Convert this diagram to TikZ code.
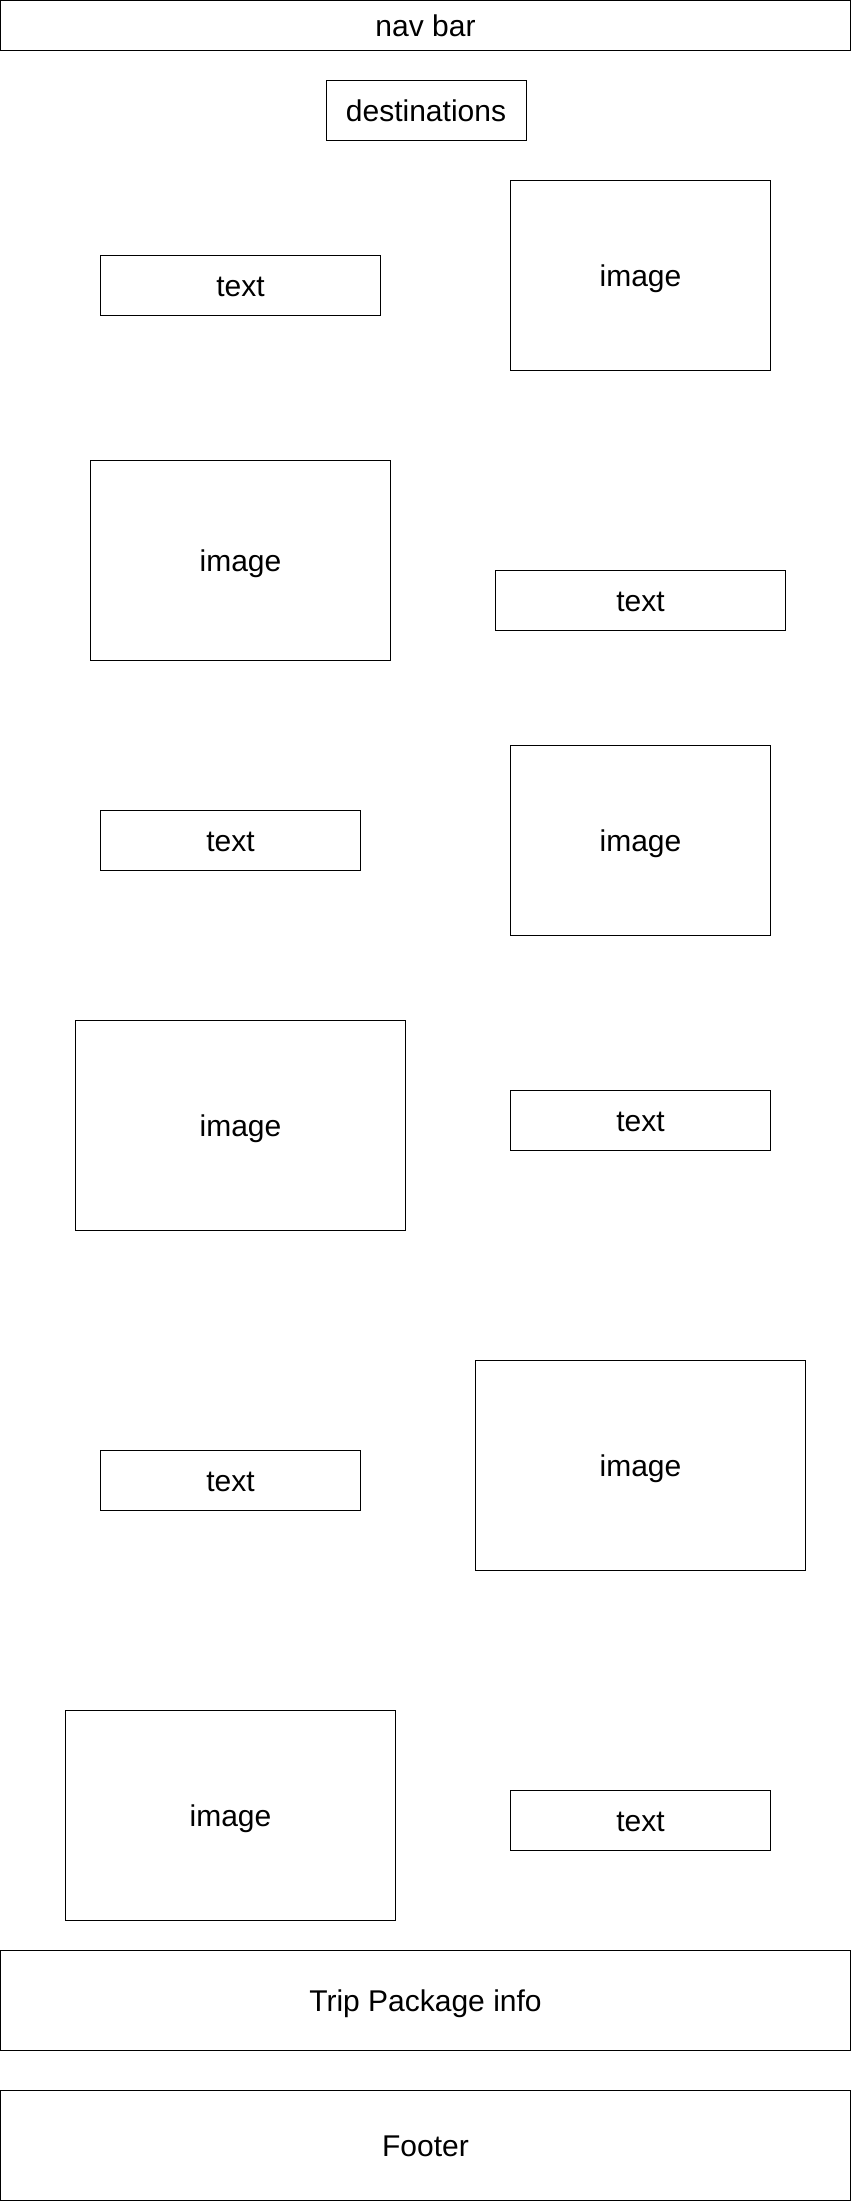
\documentclass[tikz,border=0pt]{standalone}
\usepackage{fontspec}
\setmainfont{Liberation Sans}
\begin{document}
\begin{tikzpicture}[x=1pt,y=-1pt,
  box/.style={draw=black,line width=1pt,rectangle,inner sep=0pt,anchor=center,
    font=\fontsize{30}{36}\selectfont,text height=28pt,text depth=6pt},
  wh/.style 2 args={minimum width=#1pt,minimum height=#2pt}]
\useasboundingbox[fill=white] (-0.5,-0.5) rectangle (850.5,2200.5);
\node[box,wh={850}{50}] (nav) at (425,25) {nav bar};
\node[box,wh={200}{60}] (dest) at (425.5,110) {destinations};
\node[box,wh={280}{60}] (t1) at (240,285) {text};
\node[box,wh={260}{190}] (i1) at (640,275) {image};
\node[box,wh={300}{200}] (i2) at (240,560) {image};
\node[box,wh={290}{60}] (t2) at (640,600) {text};
\node[box,wh={260}{60}] (t3) at (230,840) {text};
\node[box,wh={260}{190}] (i3) at (640,840) {image};
\node[box,wh={330}{210}] (i4) at (240,1125) {image};
\node[box,wh={260}{60}] (t4) at (640,1120) {text};
\node[box,wh={260}{60}] (t5) at (230,1480) {text};
\node[box,wh={330}{210}] (i5) at (640,1465) {image};
\node[box,wh={330}{210}] (i6) at (230,1815) {image};
\node[box,wh={260}{60}] (t6) at (640,1820) {text};
\node[box,wh={850}{100}] (trip) at (425,2000) {Trip Package info};
\node[box,wh={850}{110}] (foot) at (425,2145) {Footer};
\end{tikzpicture}
\end{document}
